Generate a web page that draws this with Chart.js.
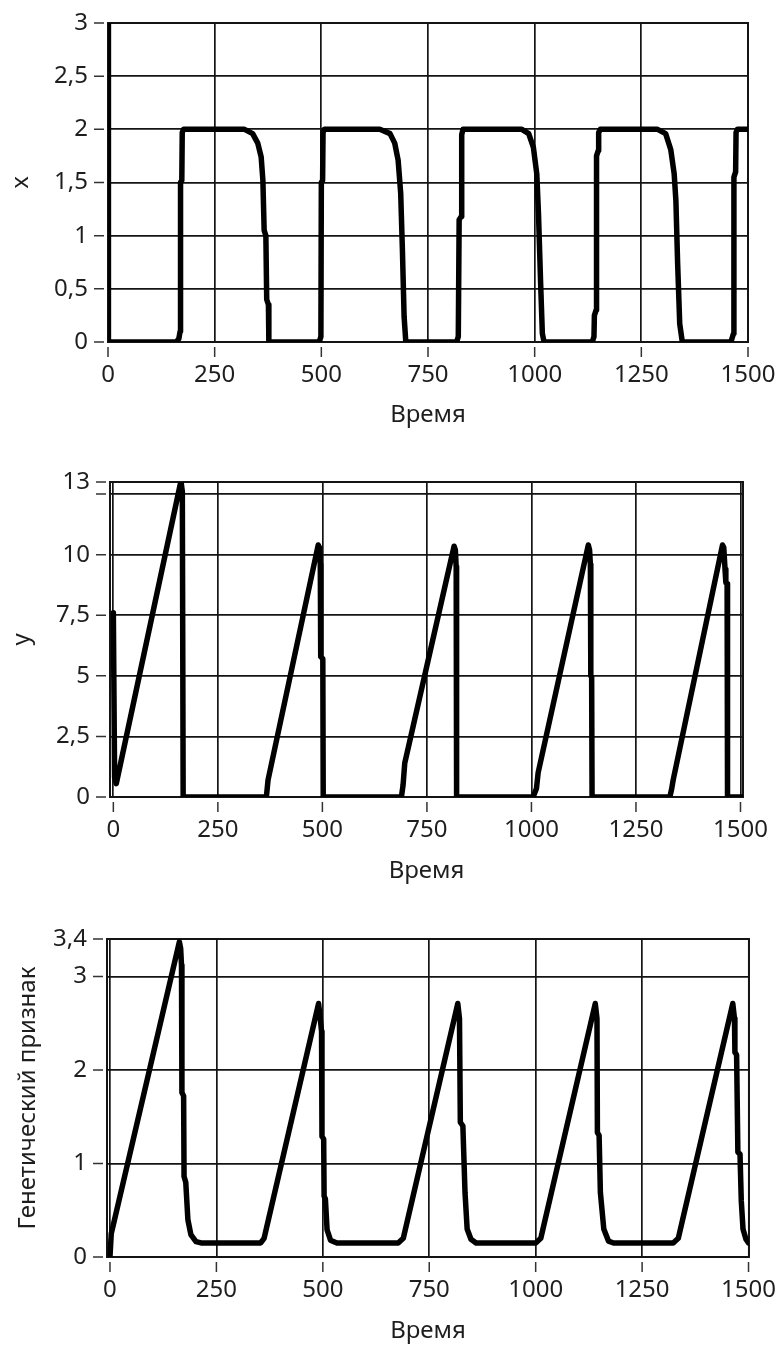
<!DOCTYPE html>
<html lang="ru">
<head>
<meta charset="utf-8">
<title>x, y и генетический признак</title>
<script src="https://cdn.jsdelivr.net/npm/chart.js@4.4.1/dist/chart.umd.min.js"></script>
<style>
    html, body { margin: 0; padding: 0; background: #fff; }
    #wrap { position: relative; width: 780px; height: 1345px; overflow: hidden; }
    #wrap canvas { position: absolute; left: 0; }
</style>
</head>
<body>
<div id="wrap">
    <canvas id="chartX" width="780" height="440" style="top:0px"></canvas>
    <canvas id="chartY" width="780" height="440" style="top:450px"></canvas>
    <canvas id="chartG" width="780" height="450" style="top:895px"></canvas>
</div>
<script>
// ===== Данные =====
const timeTicks = [0, 250, 500, 750, 1000, 1250, 1500];

// x(t)
const xTime = [0, 1, 160, 166, 169, 170, 173, 174, 177,
    320, 339, 351, 359, 363, 366, 370, 372, 376, 377,
    495, 499, 500, 503, 504, 507,
    637, 661, 672, 680, 686, 690, 694, 698,
    817, 821, 823, 828, 829, 832,
    970, 986, 997, 1005, 1009, 1014, 1018, 1022,
    1135, 1139, 1140, 1144, 1145, 1149, 1150, 1154,
    1288, 1307, 1319, 1327, 1331, 1335, 1340, 1346,
    1460, 1466, 1467, 1471, 1472, 1475, 1500];
const xValues = [3, 0, 0, 0.03, 0.1, 1.5, 1.52, 1.97, 2,
    2, 1.96, 1.87, 1.74, 1.52, 1.05, 1.0, 0.4, 0.35, 0,
    0, 0.05, 1.5, 1.52, 1.97, 2,
    2, 1.96, 1.87, 1.71, 1.4, 0.87, 0.24, 0,
    0, 0.05, 1.15, 1.18, 1.95, 2,
    2, 1.96, 1.83, 1.58, 1.2, 0.55, 0.08, 0,
    0, 0.05, 0.25, 0.3, 1.75, 1.8, 1.97, 2,
    2, 1.96, 1.81, 1.58, 1.33, 0.75, 0.17, 0,
    0, 0.08, 1.55, 1.6, 1.97, 2, 2];
const xTicks = [0, 0.5, 1, 1.5, 2, 2.5, 3];

// y(t)
const yTime = [0, 3, 7, 160, 162, 165, 167,
    366, 370, 490, 493, 495, 496, 501, 502,
    689, 693, 697, 815, 818, 820, 821,
    1004, 1012, 1016, 1136, 1139, 1141, 1142, 1144, 1145,
    1331, 1335, 1339, 1457, 1460, 1463, 1465, 1468, 1469, 1505];
const yValues = [7.6, 0.8, 0.55, 12.9, 13, 12.6, 0,
    0, 0.7, 10.4, 10.3, 9.6, 5.8, 5.7, 0,
    0, 0.5, 1.4, 10.35, 10.2, 9.5, 0,
    0, 0.35, 1.0, 10.4, 10.2, 9.6, 5.0, 4.95, 0,
    0, 0.3, 0.7, 10.4, 10.3, 9.4, 8.85, 8.8, 0, 0];
const yTicks = [0, 2.5, 5, 7.5, 10, 12.5, 13];

// Генетический признак
const gTime = [0, 3, 163, 166, 168, 169, 173, 174, 178, 183, 190, 202, 214,
    354, 362, 490, 494, 497, 498, 502, 503, 506, 510, 518, 533,
    677, 689, 817, 821, 823, 829, 834, 839, 848, 860,
    1000, 1012, 1140, 1144, 1145, 1149, 1152, 1160, 1171, 1183,
    1323, 1335, 1463, 1467, 1468, 1472, 1475, 1480, 1483, 1487, 1494, 1500];
const gValues = [0, 0.25, 3.37, 3.3, 3.12, 1.76, 1.72, 0.86, 0.8, 0.4, 0.24, 0.165, 0.15,
    0.15, 0.2, 2.71, 2.55, 2.41, 1.29, 1.26, 0.65, 0.62, 0.29, 0.18, 0.15,
    0.15, 0.2, 2.71, 2.55, 1.44, 1.4, 0.69, 0.3, 0.19, 0.15,
    0.15, 0.2, 2.71, 2.55, 1.33, 1.3, 0.69, 0.3, 0.17, 0.15,
    0.15, 0.2, 2.71, 2.55, 2.19, 2.16, 1.12, 1.1, 0.6, 0.3, 0.19, 0.15];
const gTicks = [0, 1, 2, 3, 3.4];

// ===== Оформление =====
const FONT = "'Noto Sans', 'Open Sans', sans-serif";
const FONT_SIZE = 24;
const TEXT_COLOR = '#1e1e1e';
const GRID_COLOR = '#141414';

// рамка и штрихи делений с зазором, как в LabVIEW
const framePlugin = {
    id: 'frame',
    beforeDatasetsDraw(chart) {
        const { ctx, chartArea: a, scales } = chart;
        ctx.save();
        ctx.strokeStyle = GRID_COLOR;
        ctx.lineWidth = 2;
        ctx.strokeRect(a.left, a.top, a.right - a.left, a.bottom - a.top);

        ctx.lineWidth = 1.5;
        ctx.strokeStyle = '#333';
        ctx.beginPath();
        scales.y.ticks.forEach(t => {
            const py = scales.y.getPixelForValue(t.value);
            ctx.moveTo(a.left - 14, py);
            ctx.lineTo(a.left - 4, py);
        });
        scales.x.ticks.forEach(t => {
            const px = scales.x.getPixelForValue(t.value);
            ctx.moveTo(px, a.bottom + 5);
            ctx.lineTo(px, a.bottom + 15);
        });
        ctx.stroke();
        ctx.restore();
    }
};

function fmt(v) {
    return String(v).replace('.', ',');
}

function makeChart(id, g, times, values, ticksY, titleY, hideY) {
    const canvas = document.getElementById(id);
    const H = canvas.height;
    const half = FONT_SIZE * 1.2 / 2;
    return new Chart(canvas.getContext('2d'), {
        type: 'line',
        data: {
            datasets: [{
                data: times.map((t, i) => ({ x: t, y: values[i] })),
                borderColor: '#000',
                borderWidth: 5.5,
                borderJoinStyle: 'round',
                borderCapStyle: 'round',
                pointRadius: 0,
                tension: 0,
                fill: false
            }]
        },
        options: {
            responsive: false,
            animation: false,
            devicePixelRatio: 1,
            layout: {
                padding: { top: g.top, right: 780 - g.right, bottom: 0, left: 0 }
            },
            plugins: {
                legend: { display: false },
                tooltip: { enabled: false }
            },
            scales: {
                x: {
                    type: 'linear',
                    min: g.xMin,
                    max: g.xMax,
                    afterBuildTicks: s => { s.ticks = timeTicks.map(v => ({ value: v })); },
                    afterFit: s => { s.height = H - g.bottom; },
                    grid: {
                        color: GRID_COLOR,
                        lineWidth: 1.7,
                        drawTicks: true,
                        tickLength: 15,
                        tickColor: 'rgba(0,0,0,0)'
                    },
                    border: { display: false },
                    ticks: {
                        autoSkip: false,
                        maxRotation: 0,
                        padding: 4,
                        color: TEXT_COLOR,
                        font: { family: FONT, size: FONT_SIZE },
                        callback: v => fmt(v)
                    },
                    title: {
                        display: true,
                        text: 'Время',
                        color: TEXT_COLOR,
                        font: { family: FONT, size: FONT_SIZE },
                        padding: { top: 0, bottom: H - g.titleXY - half }
                    }
                },
                y: {
                    type: 'linear',
                    min: ticksY[0],
                    max: ticksY[ticksY.length - 1],
                    afterBuildTicks: s => { s.ticks = ticksY.map(v => ({ value: v })); },
                    afterFit: s => { s.width = g.left; },
                    grid: {
                        color: GRID_COLOR,
                        lineWidth: 1.7,
                        drawTicks: true,
                        tickLength: 16,
                        tickColor: 'rgba(0,0,0,0)'
                    },
                    border: { display: false },
                    ticks: {
                        autoSkip: false,
                        padding: 4,
                        color: TEXT_COLOR,
                        font: { family: FONT, size: FONT_SIZE },
                        callback: v => (hideY.indexOf(v) >= 0 ? '' : fmt(v))
                    },
                    title: {
                        display: true,
                        text: titleY,
                        color: TEXT_COLOR,
                        font: { family: FONT, size: FONT_SIZE },
                        padding: { top: g.titleYX - half, bottom: 0 }
                    }
                }
            }
        },
        plugins: [framePlugin]
    });
}

// геометрия областей построения (в пикселях холста)
makeChart('chartX',
    { top: 23, bottom: 342, left: 108, right: 748, xMin: 0, xMax: 1500, titleXY: 415, titleYX: 21 },
    xTime, xValues, xTicks, 'x', []);

makeChart('chartY',
    { top: 32, bottom: 347, left: 110, right: 743, xMin: -8, xMax: 1506, titleXY: 421, titleYX: 22 },
    yTime, yValues, yTicks, 'y', [12.5]);

makeChart('chartG',
    { top: 44, bottom: 362, left: 107, right: 753, xMin: -7, xMax: 1501, titleXY: 436, titleYX: 28 },
    gTime, gValues, gTicks, 'Генетический признак', []);
</script>
</body>
</html>
